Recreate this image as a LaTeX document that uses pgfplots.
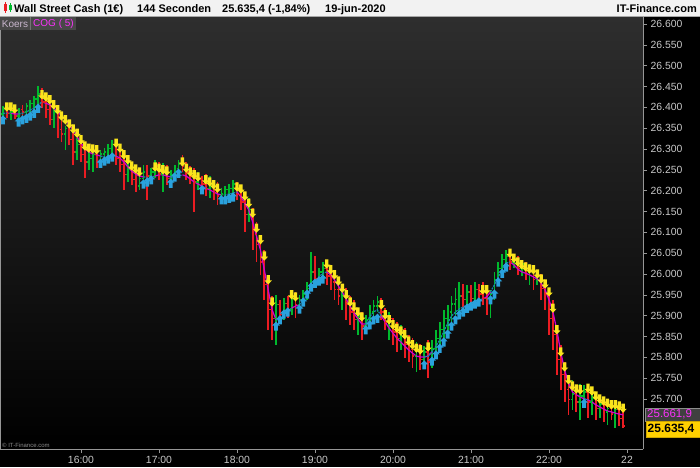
\documentclass[border=0pt]{standalone}
\usepackage{pgfplots}
\pgfplotsset{compat=1.18}
\usepackage{pgfplotstable}
\usepackage{fontspec}
\setmainfont{Liberation Sans}
\definecolor{bgtop}{RGB}{46,46,46}
\definecolor{axgray}{RGB}{150,150,150}
\definecolor{lblgray}{RGB}{200,200,200}
\definecolor{redc}{RGB}{235,28,34}
\definecolor{greenc}{RGB}{0,185,45}
\definecolor{yelc}{RGB}{250,228,28}
\definecolor{bluec}{RGB}{42,162,222}
\definecolor{magc}{RGB}{210,0,210}
\definecolor{tealc}{RGB}{22,135,175}
\definecolor{goldc}{RGB}{255,208,0}
\definecolor{titlebg}{RGB}{242,242,242}
\definecolor{boxg}{RGB}{72,72,72}
\definecolor{koersc}{RGB}{200,182,205}
\definecolor{magtxt}{RGB}{250,50,250}

\pgfdeclareplotmark{ydn}{%
 \pgfpathmoveto{\pgfqpoint{0pt}{-4.6pt}}%
 \pgfpathlineto{\pgfqpoint{3.7pt}{-0.6pt}}%
 \pgfpathlineto{\pgfqpoint{1.7pt}{-0.6pt}}%
 \pgfpathlineto{\pgfqpoint{1.7pt}{4.6pt}}%
 \pgfpathlineto{\pgfqpoint{-1.7pt}{4.6pt}}%
 \pgfpathlineto{\pgfqpoint{-1.7pt}{-0.6pt}}%
 \pgfpathlineto{\pgfqpoint{-3.7pt}{-0.6pt}}%
 \pgfpathclose\pgfusepathqfill}
\pgfdeclareplotmark{bup}{%
 \pgfpathmoveto{\pgfqpoint{0pt}{4.6pt}}%
 \pgfpathlineto{\pgfqpoint{3.9pt}{0.5pt}}%
 \pgfpathlineto{\pgfqpoint{1.9pt}{0.5pt}}%
 \pgfpathlineto{\pgfqpoint{1.9pt}{-4.6pt}}%
 \pgfpathlineto{\pgfqpoint{-1.9pt}{-4.6pt}}%
 \pgfpathlineto{\pgfqpoint{-1.9pt}{0.5pt}}%
 \pgfpathlineto{\pgfqpoint{-3.9pt}{0.5pt}}%
 \pgfpathclose\pgfusepathqfill}
\pgfdeclareplotmark{otk}{%
 \pgfpathmoveto{\pgfqpoint{-1.8pt}{0pt}}\pgfpathlineto{\pgfqpoint{0pt}{0pt}}\pgfusepathqstroke}
\pgfdeclareplotmark{ctk}{%
 \pgfpathmoveto{\pgfqpoint{0pt}{0pt}}\pgfpathlineto{\pgfqpoint{1.8pt}{0pt}}\pgfusepathqstroke}

\pgfplotstableread{
i o h l c ya ba mm mt
0 26384 26403 26379 26394 nan 26370 nan 26386
1 26394 26398 26374 26386 26401 nan 26386 26386
2 26386 26394 26370 26389 26401 nan 26386 nan
3 26389 26391 26372 26379 26396 nan 26384 nan
4 26379 26398 26374 26394 nan 26365 26384 26384
5 26394 26406 26377 26389 nan 26370 nan 26386
6 26389 26410 26384 26403 nan 26374 nan 26389
7 26403 26418 26389 26410 nan 26379 nan 26394
8 26410 26427 26394 26420 nan 26386 nan 26398
9 26420 26451 26408 26432 nan 26398 nan 26406
10 26432 26446 26398 26413 26430 nan 26413 26413
11 26413 26418 26374 26394 26425 nan 26410 nan
12 26394 26408 26358 26370 26418 nan 26406 nan
13 26370 26398 26350 26389 26406 nan 26398 nan
14 26389 26391 26326 26346 26394 nan 26391 nan
15 26346 26370 26317 26336 26379 nan 26379 nan
16 26336 26355 26298 26350 26370 nan 26370 nan
17 26350 26355 26310 26322 26360 nan 26358 nan
18 26322 26341 26262 26293 26348 nan 26346 nan
19 26293 26326 26274 26310 26338 nan 26329 nan
20 26310 26314 26269 26286 26322 nan 26314 nan
21 26286 26298 26230 26269 26307 nan 26302 nan
22 26269 26293 26250 26278 26302 nan 26293 nan
23 26278 26293 26245 26286 26300 nan 26288 nan
24 26286 26290 26254 26269 26298 nan 26286 nan
25 26269 26298 26262 26288 nan 26266 26283 26283
26 26288 26302 26274 26293 nan 26271 nan 26281
27 26293 26312 26278 26302 nan 26276 nan 26281
28 26302 26322 26286 26310 nan 26281 nan 26283
29 26310 26310 26262 26278 26314 nan 26283 26283
30 26278 26298 26245 26262 26302 nan 26278 nan
31 26262 26283 26202 26238 26286 nan 26269 nan
32 26238 26274 26221 26250 26274 nan 26257 nan
33 26250 26262 26214 26226 26259 nan 26247 nan
34 26226 26250 26197 26211 26252 nan 26240 nan
35 26211 26245 26202 26230 26245 nan 26235 nan
36 26230 26262 26211 26245 nan 26216 26233 26233
37 26245 26262 26178 26235 nan 26221 nan 26233
38 26235 26254 26216 26245 nan 26226 nan 26233
39 26245 26274 26230 26259 26257 nan 26235 26235
40 26259 26269 26226 26240 26254 nan 26238 nan
41 26240 26266 26197 26250 26250 nan 26238 nan
42 26250 26262 26214 26230 26247 nan 26235 nan
43 26230 26250 26221 26238 nan 26218 26233 26233
44 26238 26262 26226 26254 nan 26233 nan 26233
45 26254 26274 26238 26264 nan 26242 nan 26235
46 26264 26286 26245 26259 26269 nan 26238 26238
47 26259 26269 26226 26245 26254 nan 26235 nan
48 26245 26259 26216 26235 26245 nan 26228 nan
49 26235 26254 26149 26221 26238 nan 26221 nan
50 26221 26245 26202 26226 26233 nan 26216 nan
51 26226 26235 26206 26216 nan 26202 26211 26211
52 26216 26240 26187 26206 26226 nan 26206 26206
53 26206 26235 26182 26214 26221 nan 26202 nan
54 26214 26226 26178 26197 26214 nan 26197 nan
55 26197 26221 26166 26187 26206 nan 26192 nan
56 26187 26206 26173 26192 nan 26178 26190 26190
57 26192 26211 26182 26202 nan 26178 nan 26190
58 26202 26216 26187 26206 nan 26182 nan 26192
59 26206 26226 26192 26216 nan 26185 nan 26194
60 26216 26221 26178 26190 26209 nan 26197 26197
61 26190 26211 26154 26173 26204 nan 26185 nan
62 26173 26197 26101 26142 26187 nan 26170 nan
63 26142 26182 26125 26154 26170 nan 26154 nan
64 26154 26158 26058 26094 26146 nan 26125 nan
65 26094 26125 26029 26070 26110 nan 26091 nan
66 26070 26094 25998 26029 26082 nan 26058 nan
67 26029 26058 25938 25974 26043 nan 26010 nan
68 25974 25998 25866 25914 25986 nan 25962 nan
69 25914 25947 25842 25894 25933 nan 25914 nan
70 25894 25950 25830 25926 nan 25875 25890 25890
71 25926 25938 25885 25902 nan 25890 nan 25890
72 25902 25942 25890 25930 nan 25904 nan 25902
73 25930 25947 25894 25914 nan 25909 nan 25911
74 25914 25962 25902 25942 25950 nan 25918 25918
75 25942 25957 25894 25926 25945 nan 25923 nan
76 25926 25950 25909 25938 nan 25916 25926 25926
77 25938 25962 25923 25952 nan 25933 nan 25938
78 25952 25981 25938 25966 nan 25952 nan 25950
79 25966 26053 25962 26005 nan 25969 nan 25964
80 26005 26043 25976 25990 nan 25978 nan 25978
81 25990 26014 25976 26005 nan 25983 nan 25993
82 26005 26029 25990 26014 nan 25988 nan 26002
83 26014 26029 25974 25995 26024 nan 26005 26005
84 25995 26019 25962 25981 26010 nan 25998 nan
85 25981 26005 25938 25962 25998 nan 25986 nan
86 25962 25986 25926 25947 25983 nan 25971 nan
87 25947 25976 25914 25962 25966 nan 25957 nan
88 25962 25966 25890 25926 25950 nan 25940 nan
89 25926 25947 25878 25909 25933 nan 25923 nan
90 25909 25938 25866 25890 25921 nan 25906 nan
91 25890 25918 25854 25899 25909 nan 25892 nan
92 25899 25909 25842 25875 25897 nan 25880 nan
93 25875 25902 25861 25890 nan 25866 25880 25880
94 25890 25926 25875 25909 nan 25878 nan 25897
95 25909 25938 25894 25923 nan 25890 nan 25909
96 25923 25947 25909 25933 nan 25894 nan 25914
97 25933 25942 25890 25909 25926 nan 25899 25899
98 25909 25918 25866 25885 25902 nan 25885 nan
99 25885 25909 25842 25894 25890 nan 25870 nan
100 25894 25894 25830 25861 25878 nan 25858 nan
101 25861 25885 25813 25846 25870 nan 25846 nan
102 25846 25878 25818 25866 25863 nan 25837 nan
103 25866 25870 25798 25830 25854 nan 25827 nan
104 25830 25854 25789 25818 25839 nan 25818 nan
105 25818 25846 25774 25803 25830 nan 25810 nan
106 25803 25837 25765 25818 25822 nan 25803 nan
107 25818 25832 25770 25794 25818 nan 25801 nan
108 25794 25827 25779 25813 nan 25782 25801 25801
109 25813 25842 25750 25789 25825 nan 25803 25803
110 25789 25842 25774 25822 nan 25791 25813 25813
111 25822 25866 25808 25846 nan 25806 nan 25827
112 25846 25885 25818 25866 nan 25822 nan 25842
113 25866 25914 25846 25894 nan 25837 nan 25861
114 25894 25926 25866 25909 nan 25856 nan 25882
115 25909 25947 25885 25928 nan 25875 nan 25899
116 25928 25966 25902 25938 nan 25890 nan 25909
117 25938 25981 25909 25947 nan 25902 nan 25916
118 25947 25976 25914 25938 nan 25909 nan 25921
119 25938 25974 25923 25957 nan 25918 nan 25926
120 25957 25974 25926 25942 nan 25923 nan 25930
121 25942 25981 25933 25962 nan 25928 nan 25935
122 25962 25976 25938 25952 nan 25933 nan 25938
123 25952 25981 25926 25942 25962 nan 25940 25940
124 25942 25974 25902 25938 25962 nan 25945 nan
125 25938 25962 25894 25952 nan 25938 25957 25957
126 25952 26005 25938 25986 nan 25952 nan 25974
127 25986 26029 25971 26014 nan 25981 nan 25993
128 26014 26048 26000 26034 nan 26002 nan 26012
129 26034 26058 26014 26043 nan 26017 nan 26026
130 26043 26058 26010 26029 26050 nan 26029 26029
131 26029 26046 26014 26038 26038 nan 26022 nan
132 26038 26043 25998 26014 26029 nan 26012 nan
133 26014 26034 25995 26024 26022 nan 26005 nan
134 26024 26029 25986 26005 26017 nan 26002 nan
135 26005 26024 25974 26010 26012 nan 25998 nan
136 26010 26019 25962 25986 26010 nan 25993 nan
137 25986 26010 25974 25995 26000 nan 25988 nan
138 25995 26000 25938 25966 25988 nan 25978 nan
139 25966 25986 25914 25950 25976 nan 25962 nan
140 25950 25966 25854 25894 25957 nan 25938 nan
141 25894 25938 25818 25854 25918 nan 25909 nan
142 25854 25878 25758 25794 25866 nan 25866 nan
143 25794 25830 25722 25758 25813 nan 25813 nan
144 25758 25789 25693 25722 25777 nan 25770 nan
145 25722 25755 25662 25698 25746 nan 25738 nan
146 25698 25746 25674 25712 25731 nan 25717 nan
147 25712 25734 25669 25693 25724 nan 25710 nan
148 25693 25736 25650 25707 25722 nan 25705 nan
149 25707 25734 25678 25717 nan 25690 25700 25700
150 25717 25734 25654 25693 25726 nan 25698 25698
151 25693 25726 25662 25702 25719 nan 25693 nan
152 25702 25717 25650 25678 25707 nan 25686 nan
153 25678 25707 25654 25688 25700 nan 25681 nan
154 25688 25702 25645 25669 25695 nan 25676 nan
155 25669 25698 25638 25678 25690 nan 25671 nan
156 25678 25693 25650 25664 25686 nan 25669 nan
157 25664 25693 25630 25674 25686 nan 25666 nan
158 25674 25688 25635 25654 25683 nan 25664 nan
159 25654 25683 25630 25635 25678 nan 25662 nan
}\data

\begin{document}
\begin{tikzpicture}[x=1pt,y=1pt]
\useasboundingbox (0,0) rectangle (700,467);
\fill[black] (0,0) rectangle (700,467);
\begin{axis}[
 at={(0pt,18pt)}, anchor=south west,
 scale only axis, width=643pt, height=432pt,
 xmin=-0.77, xmax=164.1, ymin=25580, ymax=26616.8,
 axis background/.style={top color=bgtop, bottom color=black},
 axis x line*=bottom, axis y line*=right,
 axis line style={draw=axgray, line width=0.8pt, -},
 xtick={20,40,60,80,100,120,140,160},
 xticklabels={16:00,17:00,18:00,19:00,20:00,21:00,22:00,22},
 ytick={25700,25750,...,26600},
 yticklabels={25.700,25.750,25.800,25.850,25.900,25.950,26.000,26.050,26.100,26.150,26.200,26.250,26.300,26.350,26.400,26.450,26.500,26.550,26.600},
 tick align=outside, major tick length=4pt,
 tick style={draw=axgray, line width=0.6pt},
 ticklabel style={text=lblgray, font=\fontsize{10.4}{12}\selectfont},
 yticklabel style={anchor=west},
 clip=true,
]
% green bars (high-low range drawn as error bars from the low)
\addplot[draw=none, mark=none, forget plot,
 restrict expr to domain={\thisrow{c}-\thisrow{o}}{0:100000},
 error bars/.cd, y dir=plus, y explicit, error mark=none,
 error bar style={line width=1.8pt, draw=greenc}]
 table[x=i, y=l, y error expr=\thisrow{h}-\thisrow{l}] {\data};
\addplot[color=greenc, only marks, mark=otk, mark options={line width=1.3pt},
 restrict expr to domain={\thisrow{c}-\thisrow{o}}{0:100000}] table[x=i, y=o] {\data};
\addplot[color=greenc, only marks, mark=ctk, mark options={line width=1.3pt},
 restrict expr to domain={\thisrow{c}-\thisrow{o}}{0:100000}] table[x=i, y=c] {\data};
% red bars
\addplot[draw=none, mark=none, forget plot,
 restrict expr to domain={\thisrow{c}-\thisrow{o}}{-100000:-0.5},
 error bars/.cd, y dir=plus, y explicit, error mark=none,
 error bar style={line width=1.8pt, draw=redc}]
 table[x=i, y=l, y error expr=\thisrow{h}-\thisrow{l}] {\data};
\addplot[color=redc, only marks, mark=otk, mark options={line width=1.3pt},
 restrict expr to domain={\thisrow{c}-\thisrow{o}}{-100000:-0.5}] table[x=i, y=o] {\data};
\addplot[color=redc, only marks, mark=ctk, mark options={line width=1.3pt},
 restrict expr to domain={\thisrow{c}-\thisrow{o}}{-100000:-0.5}] table[x=i, y=c] {\data};
% COG
\addplot[color=magc, line width=1.2pt, unbounded coords=jump] table[x=i, y=mm] {\data};
\addplot[color=tealc, line width=1.2pt, dash pattern=on 2pt off 1pt, unbounded coords=jump] table[x=i, y=mt] {\data};
% signals
\addplot[color=yelc, only marks, mark=ydn] table[x=i, y=ya] {\data};
\addplot[color=bluec, only marks, mark=bup] table[x=i, y=ba] {\data};
\end{axis}
% left border
\draw[axgray, line width=0.8pt] (0.4,18) -- (0.4,450);
% title bar
\fill[titlebg] (0,451) rectangle (700,467);
\draw[black!35, line width=0.8pt] (0,451) -- (700,451);
\fill[redc] (3.5,456) rectangle (6.5,463);
\draw[redc, line width=0.6pt] (5,454) -- (5,465);
\fill[greenc] (8.5,457) rectangle (11.5,462);
\draw[greenc, line width=0.6pt] (10,455) -- (10,464);
\begin{scope}[every node/.style={anchor=base west, inner sep=0pt, font=\fontsize{11}{12}\selectfont\bfseries}]
\node at (14,454) {Wall Street Cash (1€)};
\node at (137,454) {144 Seconden};
\node at (222,454) {25.635,4 (-1,84\%)};
\node at (325,454) {19-jun-2020};
\node[anchor=base east] at (697,454) {IT-Finance.com};
\end{scope}
% legend boxes
\fill[boxg] (0,437) rectangle (30,450);
\draw[black!55!white, line width=0.5pt] (30.2,437) -- (30.2,450);
\node[anchor=center, inner sep=0pt, text=koersc, font=\fontsize{10}{12}\selectfont] at (15,443.3) {Koers};
\fill[boxg] (31,437) rectangle (76,450);
\node[anchor=center, inner sep=0pt, text=magtxt, font=\fontsize{10}{12}\selectfont] at (53.5,443.3) {COG ( 5)};
% copyright
\node[anchor=west, inner sep=0pt, text=black!45!white, font=\fontsize{6}{7}\selectfont] at (2,22) {© IT-Finance.com};
% price boxes
\filldraw[fill=black!75!white, draw=black!45!white, line width=0.6pt] (645.5,46) rectangle (700,59);
\node[anchor=west, inner sep=0pt, text=magtxt, font=\fontsize{11.5}{13}\selectfont] at (647,52.3) {25.661,9};
\filldraw[fill=goldc, draw=goldc!80!black, line width=0.5pt] (646,30) rectangle (700,46);
\node[anchor=west, inner sep=0pt, text=black, font=\fontsize{12}{14}\selectfont\bfseries] at (647.5,38) {25.635,4};
\end{tikzpicture}
\end{document}
